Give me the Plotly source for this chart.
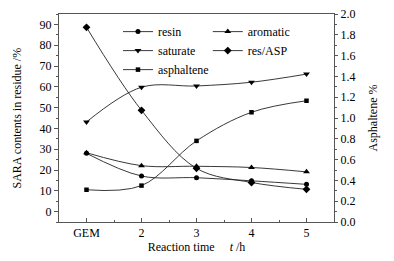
import plotly.graph_objects as go

x_pos = [1, 2, 3, 4, 5]
x_labels = ["GEM", "2", "3", "4", "5"]
resin = [28.0, 17.1, 16.3, 14.8, 13.1]
aromatic = [28.3, 22.1, 21.8, 21.2, 19.1]
saturate = [43.1, 59.8, 60.4, 62.2, 66.1]
res_asp = [88.6, 48.7, 20.8, 14.0, 10.7]
asphaltene = [0.31, 0.35, 0.78, 1.055, 1.166]

FONT = "Liberation Serif"
C = "black"

def tr(name, y, sym, legend, axis="y", size=5):
    return go.Scatter(
        x=x_pos, y=y, name=name, mode="lines+markers",
        line=dict(color="#222", width=0.9, shape="spline", smoothing=1),
        marker=dict(symbol=sym, size=size, color=C),
        legend=legend, yaxis=axis,
    )

fig = go.Figure()
fig.add_trace(tr("resin", resin, "circle", "legend", size=5))
fig.add_trace(tr("saturate", saturate, "triangle-down", "legend", size=6))
fig.add_trace(tr("asphaltene", asphaltene, "square", "legend", axis="y2", size=4.5))
fig.add_trace(tr("aromatic", aromatic, "triangle-up", "legend2", size=6))
fig.add_trace(tr("res/ASP", res_asp, "diamond", "legend2", size=6))

leg_common = dict(font=dict(family=FONT, size=12, color=C), bgcolor="rgba(0,0,0,0)",
                  tracegroupgap=0, itemwidth=30, xanchor="left", yanchor="top")

# page body has an 8px default margin, so the figure is sized/offset to compensate
fig.update_layout(
    width=386, height=253,
    margin=dict(l=51, r=60, t=6, b=39, autoexpand=False),
    paper_bgcolor="white", plot_bgcolor="white",
    font=dict(family=FONT, size=12, color=C),
    showlegend=True,
    legend=dict(x=0.2145, y=0.985, **leg_common),
    legend2=dict(x=0.541, y=0.985, **leg_common),
    xaxis=dict(
        range=[0.5, 5.5], tickvals=x_pos, ticktext=x_labels,
        showline=True, linecolor="#555", linewidth=1, mirror=True,
        ticks="inside", ticklen=4, tickcolor="#555",
        minor=dict(ticks="inside", ticklen=2, dtick=0.5, tick0=0.5, tickcolor="#555"),
        showgrid=False, zeroline=False, ticklabeloverflow="allow",
        title=dict(text="Reaction time &#160;&#160;&#160;&#160;<i>t</i> /h", standoff=3,
                   font=dict(size=12)),
    ),
    yaxis=dict(
        range=[-5, 95], tickvals=[0, 10, 20, 30, 40, 50, 60, 70, 80, 90],
        showline=True, linecolor="#555", linewidth=1,
        ticks="outside", ticklen=4, tickcolor="#555",
        minor=dict(ticks="outside", ticklen=2, dtick=5, tick0=0, tickcolor="#555"),
        showgrid=False, zeroline=False, ticklabeloverflow="allow",
    ),
    yaxis2=dict(
        range=[0, 2.0], dtick=0.2, tickformat=".1f", overlaying="y", side="right",
        showline=True, linecolor="#555", linewidth=1,
        ticks="outside", ticklen=3, tickcolor="#555",
        minor=dict(ticks="outside", ticklen=2, dtick=0.1, tickcolor="#555"),
        showgrid=False, zeroline=False, ticklabeloverflow="allow",
    ),
    annotations=[
        dict(text="SARA contents in residue /%", xref="paper", yref="paper",
             x=-0.151, y=0.5, textangle=-90, showarrow=False,
             xanchor="center", yanchor="middle", font=dict(size=12)),
        dict(text="Asphaltene %", xref="paper", yref="paper",
             x=1.14, y=0.5, textangle=-90, showarrow=False,
             xanchor="center", yanchor="middle", font=dict(size=12)),
    ],
)

fig.write_html("out.html")
